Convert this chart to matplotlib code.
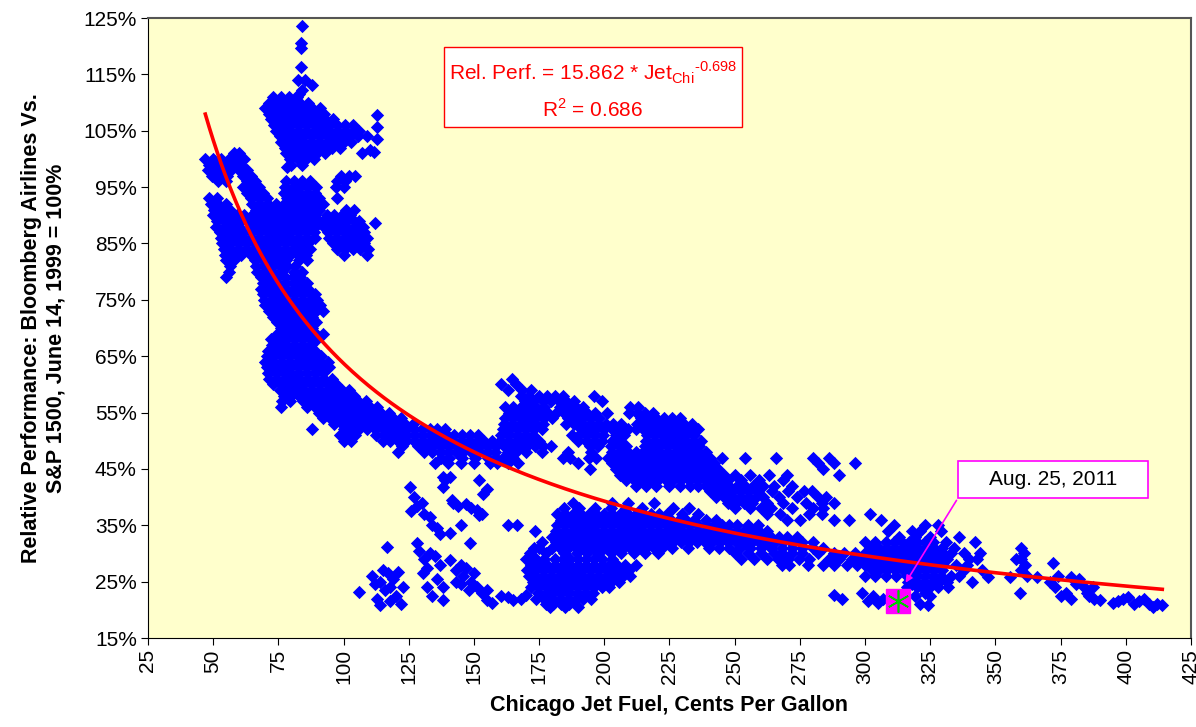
import matplotlib.pyplot as plt
import matplotlib.patches as patches

plt.rcParams['font.family'] = ['Liberation Sans', 'DejaVu Sans']
plt.rcParams['mathtext.fontset'] = 'custom'
plt.rcParams['mathtext.rm'] = 'Liberation Sans'

# Scattered single points (jet fuel cents/gal, relative performance %)
upper_pts = [(83.9, 123.5), (83.6, 120.5), (83.6, 119.7), (83.6, 116.4), (82.6, 114), (85.2, 114),
             (87.8, 113.1), (84, 112.2), (83, 111.5), (112.7, 107.8), (112.7, 105.7), (112.7, 103.6),
             (108.9, 104.1), (110, 101.5), (111.5, 101.2), (107, 101), (78.2, 98.6), (83.3, 99.8),
             (112, 88.6)]

low_left_pts = [(106, 23.1), (111, 26), (112, 24.5), (113, 22), (114, 25), (114, 20.8), (115, 27),
                (116, 23.5), (117, 26.5), (118, 21.5), (118, 24), (119, 25.5), (120, 22.5), (121, 26.7),
                (122, 21), (123, 24), (116.7, 31.2), (128, 31.9), (126, 37.5), (125.5, 41.8), (127, 40),
                (128, 38.5), (130, 39), (131, 37), (133, 36.5), (134, 35), (136, 34.5), (137, 33.5),
                (138, 43.6), (139, 43), (141, 33.6), (142, 39), (147, 38.8), (149, 38), (151, 37.8),
                (153, 37), (129, 30.5), (131, 29), (133, 30), (135, 29.5), (137, 28), (132, 27.5),
                (130.5, 26.5), (132, 24), (134, 22.5), (136, 25.5), (138, 21.7), (138, 24),
                (141, 28.8), (143, 27), (145, 28), (146, 26), (147, 27.5), (149, 25), (150, 26.5),
                (148, 23.5), (151, 24), (153, 23), (155, 21.7), (145, 24.5), (143, 25),
                (141.5, 39.5), (144, 38.5), (138, 41.8), (141, 43.6), (152, 43), (155, 41.5),
                (153.6, 40.5), (145, 35), (148.5, 31.8), (152, 36.8), (155, 23.5), (157, 21.2),
                (160.5, 22.5), (163, 22.3), (165, 21.8), (168, 22), (170, 22.6)]

right_pts = [(288, 22.6), (291, 21.9), (299, 23), (301, 21.5), (303, 22.5), (305, 21.2), (307, 22),
             (318, 24.5), (319, 22.5), (321, 21), (323, 23), (324, 20.8), (325, 22.5),
             (347, 25.8), (355.6, 25.8), (359.4, 23), (360, 31), (361, 30), (360, 29), (361.5, 28),
             (360, 27), (362, 26), (358, 29), (366, 25.8), (372, 28.3), (371, 25), (373, 24),
             (375, 22.5), (374, 26), (377, 23), (379, 22), (381, 24.5), (379, 25.8), (382, 25.5),
             (384, 24), (386, 22.5), (387.5, 24), (388, 22), (390, 21.7), (385, 23), (395, 21.2),
             (397, 21.5), (399, 22), (401, 22.3), (403, 21), (405, 21.5), (407, 22), (409, 21),
             (410.5, 20.5), (412, 21), (414, 20.8)]

# Dense areas, read row by row: (relative performance %, [jet fuel values])
upper_rows = [(111, [73, 76, 79, 82]),
              (110, [71.5, 74.5, 77.5, 80.5, 83.5, 86.5]),
              (109, [70, 73, 76, 79, 82, 85, 88, 91]),
              (108, [71.5, 74.5, 77.5, 80.5, 83.5, 86.5, 89.5, 92.5]),
              (107, [72, 75, 78, 81, 84, 87, 90, 93, 96]),
              (106, [73.5, 76.5, 79.5, 82.5, 85.5, 88.5, 91.5, 94.5, 97.5, 100.5, 103.5]),
              (105, [74, 77, 80, 83, 86, 89, 92, 95, 98, 101, 104, 106]),
              (104, [75.5, 78.5, 81.5, 84.5, 87.5, 90.5, 93.5, 96.5, 99.5, 102.5, 105.5]),
              (103, [76, 79, 82, 85, 88, 91, 94, 97, 100, 103]),
              (102, [77.5, 80.5, 83.5, 86.5, 89.5, 92.5, 95.5, 98.5]),
              (101, [78, 81, 84, 87, 90, 93]),
              (100, [79.5, 82.5, 85.5, 88.5]),
              (99, [80, 84])]

cluster_c_rows = [(97, [99, 102, 104.5]),
                  (96, [97.5, 100.5]),
                  (95, [97, 100]),
                  (93, [97.5]),
                  (91, [101, 104]),
                  (90, [93.5, 96.5, 99.5, 102.5]),
                  (89, [92, 95, 98, 101, 104, 106]),
                  (88, [92.5, 95.5, 98.5, 101.5, 104.5, 107.5]),
                  (87, [94, 97, 100, 103, 106, 108]),
                  (86, [94.5, 97.5, 100.5, 103.5, 106.5, 109]),
                  (85, [96, 99, 102, 105, 108]),
                  (84, [97.5, 100.5, 103.5, 106.5, 109.5]),
                  (83, [100, 109])]

main_rows = [(101, [58, 60]),
             (100, [47, 50, 53, 56, 59, 62]),
             (99, [48.5, 51.5, 54.5, 57.5, 60.5]),
             (98, [48, 51, 54, 57, 60, 63]),
             (97, [49.5, 52.5, 55.5, 61.5, 64.5]),
             (96, [52, 55, 63, 66, 78, 81, 84, 87]),
             (95, [61.5, 64.5, 67.5, 77.5, 80.5, 83.5, 86.5, 89.5]),
             (94, [63, 66, 69, 77, 80, 83, 86, 89]),
             (93, [48.5, 51.5, 64.5, 67.5, 70.5, 78.5, 81.5, 84.5, 87.5, 90.5]),
             (92, [49, 52, 55, 65, 68, 71, 74, 77, 80, 83, 86, 89, 92]),
             (91, [50.5, 53.5, 56.5, 66.5, 69.5, 72.5, 75.5, 78.5, 81.5, 84.5, 87.5, 90.5]),
             (90, [50, 53, 56, 59, 62, 65, 68, 71, 74, 77, 80, 83, 86, 89]),
             (89, [51.5, 54.5, 57.5, 60.5, 63.5, 66.5, 69.5, 72.5, 75.5, 78.5, 81.5, 84.5, 87.5, 90.5]),
             (88, [51, 54, 57, 60, 65, 68, 71, 74, 77, 80, 83, 86, 89]),
             (87, [52.5, 55.5, 58.5, 61.5, 64.5, 67.5, 70.5, 73.5, 76.5, 79.5, 82.5, 85.5, 88.5]),
             (86, [53, 56, 59, 62, 65, 68, 71, 74, 77, 80, 83, 86, 89]),
             (85, [53.5, 56.5, 59.5, 62.5, 65.5, 68.5, 71.5, 74.5, 77.5, 80.5, 83.5, 86.5]),
             (84, [54, 57, 60, 63, 66, 69, 72, 75, 78, 81, 84, 87]),
             (83, [54.5, 57.5, 60.5, 64.5, 67.5, 70.5, 73.5, 76.5, 79.5, 82.5, 85.5]),
             (82, [55, 58, 66, 69, 72, 75, 78, 83, 86]),
             (81, [56.5, 66.5, 69.5, 72.5, 75.5, 78.5, 81.5]),
             (80, [56, 67, 70, 73, 76, 81, 84]),
             (79, [55, 68.5, 71.5, 74.5, 77.5, 80.5, 83.5]),
             (78, [69, 72, 75, 78, 81, 84, 86]),
             (77, [68.5, 71.5, 74.5, 77.5, 80.5, 83.5, 86.5]),
             (76, [69, 72, 75, 78, 81, 84, 87, 89]),
             (75, [69.5, 72.5, 75.5, 78.5, 81.5, 84.5, 87.5, 90]),
             (74, [70, 73, 76, 79, 82, 85, 88, 91]),
             (73, [71.5, 74.5, 77.5, 80.5, 83.5, 86.5, 89.5, 92]),
             (72, [73, 76, 79, 82, 85, 88]),
             (71, [74.5, 77.5, 80.5, 83.5, 86.5, 89.5]),
             (70, [76, 79, 82, 85, 88]),
             (69, [74.5, 77.5, 80.5, 83.5, 86.5, 89.5, 92]),
             (68, [72, 75, 78, 81, 84, 87, 90]),
             (67, [72.5, 75.5, 78.5, 81.5, 84.5, 87.5]),
             (66, [71, 74, 77, 80, 83, 86, 89]),
             (65, [70.5, 73.5, 76.5, 79.5, 82.5, 85.5, 88.5, 91.5]),
             (64, [70, 73, 76, 79, 82, 85, 88, 91, 94]),
             (63, [70.5, 73.5, 76.5, 79.5, 82.5, 85.5, 88.5, 91.5, 94.5]),
             (62, [71, 74, 77, 80, 83, 86, 89, 92]),
             (61, [71.5, 74.5, 77.5, 80.5, 83.5, 86.5, 89.5, 92.5, 95.5]),
             (60, [73, 76, 79, 82, 85, 88, 91, 94, 97]),
             (59, [75.5, 78.5, 81.5, 84.5, 87.5, 90.5, 93.5, 96.5, 99.5, 102]),
             (58, [77, 80, 83, 86, 89, 92, 95, 98, 101, 104]),
             (57, [76.5, 79.5, 84.5, 87.5, 90.5, 93.5, 96.5, 99.5, 102.5, 105.5, 108.5]),
             (56, [76, 86, 89, 92, 95, 98, 101, 104, 107, 110, 113]),
             (55, [90.5, 93.5, 96.5, 99.5, 102.5, 105.5, 108.5, 111.5, 114.5, 117.5]),
             (54, [92, 95, 98, 101, 104, 107, 110, 113, 116, 119, 122]),
             (53, [96.5, 99.5, 102.5, 105.5, 108.5, 111.5, 114.5, 117.5, 120.5, 123.5, 126.5]),
             (52, [88, 100, 103, 106, 109, 112, 115, 118, 121, 124, 127, 130, 133, 136, 139]),
             (51, [98.5, 101.5, 104.5, 112.5, 115.5, 118.5, 121.5, 124.5, 127.5, 130.5, 133.5, 136.5,
                   139.5, 142.5, 145.5, 148.5, 151.5]),
             (50, [100, 103, 115, 118, 121, 124, 127, 130, 133, 136, 139, 142, 145, 148, 151, 154, 157]),
             (49, [122.5, 128.5, 131.5, 134.5, 137.5, 140.5, 143.5, 146.5, 149.5, 152.5, 155.5, 158.5]),
             (48, [121, 131, 134, 137, 140, 143, 146, 149, 152, 155, 158]),
             (47, [137.5, 140.5, 145.5, 150.5, 155.5, 158.5]),
             (46, [135, 140, 145, 150, 156, 159])]

mid_rows = [(61, [164.5]),
            (60, [160.5, 166]),
            (59, [163, 168.5, 172]),
            (58, [168, 171, 175, 178, 181, 184, 196]),
            (57, [169.5, 172.5, 176.5, 179.5, 182.5, 185.5, 188.5, 199]),
            (56, [162, 165, 168, 171, 174, 177, 183, 186, 189, 192, 210, 213]),
            (55, [163.5, 166.5, 169.5, 172.5, 175.5, 178.5, 181.5, 184.5, 187.5, 190.5, 193.5, 196.5,
                  201, 209.5, 212.5, 215.5, 218.5]),
            (54, [162, 165, 168, 171, 174, 177, 180, 186, 189, 192, 195, 198, 214, 217, 220, 223,
                  226, 229]),
            (53, [161.5, 164.5, 167.5, 170.5, 173.5, 176.5, 185.5, 188.5, 191.5, 194.5, 197.5, 200.5,
                  203.5, 206.5, 212.5, 215.5, 218.5, 221.5, 224.5, 227.5, 230.5, 233.5]),
            (52, [161, 164, 167, 170, 173, 176, 191, 194, 197, 200, 203, 206, 209, 212, 215, 218,
                  221, 224, 227, 230, 233, 236]),
            (51, [160.5, 163.5, 166.5, 169.5, 172.5, 187.5, 190.5, 193.5, 196.5, 199.5, 204.5, 207.5,
                  216.5, 219.5, 222.5, 225.5, 228.5, 231.5, 234.5]),
            (50, [160, 163, 166, 169, 172, 175, 190, 193, 196, 199, 203, 206, 216, 219, 222, 225,
                  228, 231, 234, 237]),
            (49, [161.5, 164.5, 167.5, 170.5, 173.5, 176.5, 179.5, 194.5, 197.5, 202.5, 205.5, 208.5,
                  215.5, 218.5, 221.5, 224.5, 227.5, 230.5, 233.5, 236.5]),
            (48, [163, 166, 170, 176, 186, 195, 203, 206, 209, 212, 215, 218, 221, 224, 227, 230,
                  233, 236, 239]),
            (47, [161, 165, 184, 187, 194, 197, 201.5, 204.5, 207.5, 210.5, 213.5, 216.5, 219.5,
                  222.5, 225.5, 228.5, 231.5, 234.5, 237.5, 240.5, 245, 254, 266, 280, 286]),
            (46, [163, 167, 190, 203, 206, 209, 212, 215, 218, 221, 224, 227, 230, 233, 236, 239,
                  242, 282, 288, 296]),
            (45, [194.5, 204.5, 207.5, 210.5, 213.5, 216.5, 219.5, 222.5, 225.5, 228.5, 231.5, 234.5,
                  237.5, 240.5, 243.5, 284]),
            (44, [206, 209, 212, 215, 218, 221, 224, 227, 230, 233, 236, 239, 242, 246, 250, 256,
                  263, 270, 290]),
            (43, [208.5, 211.5, 214.5, 217.5, 220.5, 223.5, 226.5, 229.5, 232.5, 235.5, 238.5,
                  241.5, 244.5, 247.5, 252.5, 259.5, 268.5]),
            (42, [212, 216, 220, 225, 229, 233, 236, 239, 242, 245, 248, 251, 254, 257, 261, 265,
                  272]),
            (41, [240.5, 243.5, 246.5, 249.5, 252.5, 255.5, 258.5, 264.5, 270.5, 276.5, 279.5]),
            (40, [243, 246, 249, 252, 255, 258, 261, 267, 274, 282, 285]),
            (39, [247.5, 250.5, 253.5, 256.5, 262.5, 268.5, 277.5, 283.5, 288]),
            (38, [250, 256, 260, 264, 272, 280, 284]),
            (37, [262.5, 267.5, 278.5, 283.5]),
            (36, [270, 275, 288, 294])]

lower_rows = [(39, [188, 203, 209, 219]),
              (38, [184.5, 190.5, 196.5, 202.5, 208.5, 214.5, 226.5, 232.5]),
              (37, [182, 185, 188, 191, 194, 197, 200, 203, 206, 209, 212, 215, 218, 221, 224, 230,
                    236, 302]),
              (36, [183.5, 186.5, 189.5, 192.5, 195.5, 198.5, 201.5, 204.5, 207.5, 210.5, 213.5, 216.5,
                    219.5, 222.5, 225.5, 228.5, 231.5, 234.5, 239, 243, 306]),
              (35, [163, 166.5, 182, 185, 188, 191, 194, 197, 200, 203, 206, 209, 212, 215, 218, 221,
                    224, 227, 230, 233, 236, 239, 242, 245, 248, 251, 255, 259, 311, 323, 328]),
              (34, [173.5, 181.5, 184.5, 187.5, 190.5, 193.5, 196.5, 199.5, 202.5, 205.5, 208.5, 211.5,
                    214.5, 217.5, 220.5, 223.5, 226.5, 229.5, 232.5, 235.5, 238.5, 241.5, 244.5, 247.5,
                    250.5, 253.5, 256.5, 259.5, 262.5, 309, 318, 321, 329]),
              (33, [180, 183, 186, 189, 192, 195, 198, 201, 204, 207, 210, 213, 216, 219, 222, 225,
                    228, 231, 234, 237, 240, 243, 246, 249, 252, 255, 258, 261, 264, 267, 270, 274,
                    313, 319, 325, 336]),
              (32, [176, 181.5, 184.5, 187.5, 190.5, 193.5, 196.5, 199.5, 202.5, 205.5, 208.5, 211.5,
                    214.5, 217.5, 220.5, 223.5, 226.5, 229.5, 232.5, 235.5, 238.5, 241.5, 244.5, 247.5,
                    250.5, 253.5, 256.5, 259.5, 262.5, 265.5, 268.5, 271.5, 276, 280, 300, 304, 308,
                    311, 314, 317, 320, 323, 326, 331, 342]),
              (31, [183, 186, 189, 192, 195, 198, 201, 204, 207, 210, 213, 216, 219, 222, 226, 232,
                    240, 244, 248, 252, 256, 260, 264, 268, 272, 276, 280, 284, 302, 305.5, 308.5,
                    311.5, 314.5, 317.5, 320.5, 323.5, 326.5, 329.5, 334]),
              (30, [184.5, 189.5, 193.5, 197.5, 202.5, 206.5, 211.5, 215.5, 220.5, 250, 255, 260,
                    265, 268, 272, 276, 282, 288, 292, 296, 300, 303, 306, 309, 312, 315, 318, 321,
                    324, 327, 330, 333, 338, 344]),
              (29, [252.5, 257.5, 262.5, 266.5, 270.5, 274.5, 278.5, 286, 290, 295, 298.5, 301.5,
                    304.5, 307.5, 310.5, 313.5, 316.5, 319.5, 322.5, 325.5, 328.5, 331.5, 340, 343]),
              (28, [268, 271, 278, 284, 288, 293, 297, 300, 303, 306, 309, 312, 315, 318, 321, 324,
                    327, 330, 335, 339]),
              (27, [302.5, 305.5, 308.5, 311.5, 314.5, 317.5, 320.5, 323.5, 326.5, 329.5, 338, 345]),
              (26, [300, 304, 308, 312, 316, 320, 323, 326, 329, 333, 336]),
              (25, [316.5, 319.5, 322.5, 325.5, 328.5, 331.5, 341]),
              (24, [316, 320, 322, 325, 328, 332])]

bottom_rows = [(31, [173, 175, 180, 186, 200]),
               (30, [171.5, 177.5]),
               (29, [170, 174, 177, 181, 184, 187, 190, 193, 196, 199, 203]),
               (28, [172, 175, 178, 181, 184, 187, 190, 193, 196, 199, 202, 205, 208, 212]),
               (27, [170.5, 173.5, 176.5, 179.5, 182.5, 185.5, 188.5, 191.5, 194.5, 197.5, 200.5,
                     203.5, 206.5, 209.5]),
               (26, [171, 174, 177, 180, 183, 186, 189, 192, 195, 198, 201, 204, 207, 210]),
               (25, [172.5, 175.5, 178.5, 181.5, 184.5, 187.5, 190.5, 193.5, 196.5, 199.5, 202.5,
                     205.5]),
               (24, [172, 175, 178, 181, 184, 187, 190, 193, 196, 199, 202]),
               (23, [174.5, 177.5, 180.5, 183.5, 186.5, 189.5, 192.5, 195.5]),
               (22, [174, 177, 180, 183, 186, 189, 192, 195]),
               (21, [177.5, 180.5, 183.5, 186.5]),
               (20.5, [179, 185, 190])]

# Power-law fit shown on the chart: Rel. Perf. = 15.862 * Jet^-0.698
fit_a = 15.862
fit_b = -0.698
fit_x = [47 + i * 0.5 for i in range(735)]

# Highlighted point: Aug. 25, 2011
aug_x, aug_y = 312.6, 21.6

fuel = []
perf = []
for pts in [upper_pts, low_left_pts, right_pts]:
    for x, y in pts:
        fuel.append(x)
        perf.append(y)
for rows in [upper_rows, cluster_c_rows, main_rows, mid_rows, lower_rows, bottom_rows]:
    for y, xs in rows:
        for x in xs:
            fuel.append(x)
            perf.append(y)

fig = plt.figure(figsize=(11.96, 7.27), dpi=100)
ax = fig.add_axes([0.1237, 0.1224, 0.8721, 0.8528])
ax.set_facecolor('#FFFFCC')

ax.scatter(fuel, perf, marker='D', s=46, color='#0000FF', linewidths=0, zorder=3)
fit_y = [fit_a * x ** fit_b * 100 for x in fit_x]
ax.plot(fit_x, fit_y, color='#FF0000', linewidth=2.6, zorder=4)

ax.plot([aug_x], [aug_y], marker='s', markersize=17, color='#FF00FF', zorder=5)
ax.plot([aug_x], [aug_y], marker=(6, 2, 0), markersize=16, color='#00CC00',
        markeredgewidth=1.2, zorder=6)

ax.set_xlim(25, 425)
ax.set_ylim(15, 125)
ax.set_xticks(range(25, 426, 25))
ax.set_yticks(range(15, 126, 10))
ax.set_yticklabels([f'{v}%' for v in range(15, 126, 10)])
ax.tick_params(axis='x', labelrotation=90, labelsize=15, direction='out', length=5, pad=3)
ax.tick_params(axis='y', labelsize=15, direction='out', length=5, pad=3)
for s in ['left', 'bottom']:
    ax.spines[s].set_color('black')
for s in ['top', 'right']:
    ax.spines[s].set_color('#555555')
    ax.spines[s].set_linewidth(1.5)

ax.set_xlabel('Chicago Jet Fuel, Cents Per Gallon', fontsize=15.5, fontweight='bold', labelpad=8)
ax.set_ylabel('Relative Performance: Bloomberg Airlines Vs.\nS&P 1500, June 14, 1999 = 100%',
              fontsize=15.5, fontweight='bold', labelpad=12)

# equation box
ax.add_patch(patches.Rectangle((0.284, 0.824), 0.2855, 0.129, transform=ax.transAxes,
                               facecolor='white', edgecolor='#FF0000', linewidth=1, zorder=7))
ax.text(0.4267, 0.912, r'Rel. Perf. = 15.862 * Jet$_{\mathrm{Chi}}$$^{\text{-0.698}}$',
        transform=ax.transAxes, ha='center', va='center', color='#FF0000', fontsize=15, zorder=8)
ax.text(0.4267, 0.853, r'R$^{\mathrm{2}}$ = 0.686', transform=ax.transAxes, ha='center',
        va='center', color='#FF0000', fontsize=15, zorder=8)

# date callout
ax.add_patch(patches.Rectangle((0.7766, 0.2258), 0.1822, 0.0597, transform=ax.transAxes,
                               facecolor='white', edgecolor='#FF00FF', linewidth=1.2, zorder=7))
ax.text(0.8677, 0.2557, 'Aug. 25, 2011', transform=ax.transAxes, ha='center', va='center',
        fontsize=15, color='black', zorder=8)
ax.annotate('', xy=(315, 24.4), xytext=(0.7766, 0.2258), textcoords='axes fraction',
            arrowprops=dict(arrowstyle='-|>', color='#FF00FF', lw=1.2, mutation_scale=10),
            zorder=8)

fig.savefig('out.png', dpi=100)
